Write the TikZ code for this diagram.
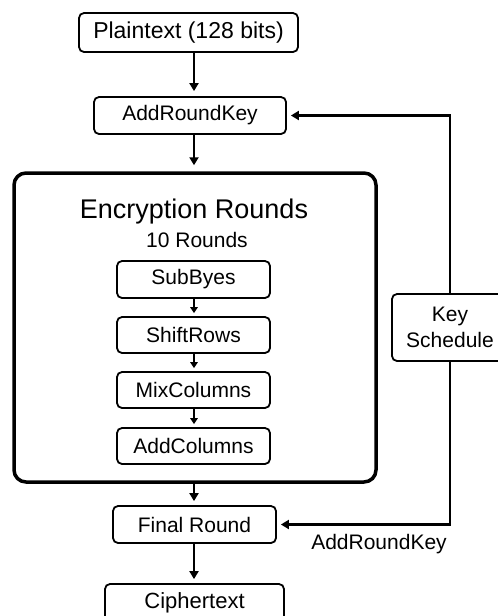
\documentclass[tikz,border=0pt]{standalone}
\usepackage{fontspec}
\setmainfont{Liberation Sans}
\usetikzlibrary{arrows.meta}
\begin{document}
\begin{tikzpicture}[x=1pt,y=-1pt,
  box/.style={draw, line width=1.8pt, rounded corners=5pt, inner sep=0pt,
    font=\fontsize{21}{26}\selectfont},
  bigbox/.style={draw, line width=3.5pt, rounded corners=12pt, inner sep=0pt},
  arr/.style={line width=2.5pt, -{Triangle[length=8pt,width=9pt]}},
  sarr/.style={line width=2pt, -{Triangle[length=6pt,width=7.5pt]}},
  lbl/.style={inner sep=0pt}]
\useasboundingbox (0,0) rectangle (498,616);
\clip (0,0) rectangle (498,616);
\fill[white] (0,0) rectangle (498,616);

\node[box, minimum width=219pt, minimum height=39pt, font=\fontsize{23}{26}\selectfont] (pt) at (188.5,32.5) {Plaintext (128 bits)};
\node[box, minimum width=192pt, minimum height=37pt] (ark) at (190,115.5) {AddRoundKey};
\node[bigbox, minimum width=362pt, minimum height=309pt] (enc) at (195,327.5) {};
\node[lbl, anchor=base, font=\fontsize{27}{30}\selectfont] (title) at (194,218) {Encryption Rounds};
\node[lbl, anchor=base, font=\fontsize{21}{24}\selectfont] (ten) at (197,247) {10 Rounds};
\node[box, minimum width=153pt, minimum height=37pt] (sb) at (193.5,279.5) {SubByes};
\node[box, minimum width=153pt, minimum height=36pt] (sr) at (193.5,335) {ShiftRows};
\node[box, minimum width=153pt, minimum height=36pt] (mc) at (193.5,390) {MixColumns};
\node[box, minimum width=153pt, minimum height=36pt] (ac) at (193.5,446) {AddColumns};
\node[box, minimum width=163pt, minimum height=37pt] (fr) at (194.5,524.5) {Final Round};
\node[box, minimum width=179pt, minimum height=38pt, font=\fontsize{22}{26}\selectfont] (ct) at (194.5,603) {Ciphertext};
\node[box, minimum width=116pt, minimum height=67pt, align=center] (ks) at (450,327.5) {Key\\Schedule};
\node[lbl, font=\fontsize{21}{24}\selectfont] (arkl) at (379,544) {AddRoundKey};

\draw[arr, shorten >=5pt] (pt.south -| 194,0) -- (ark.north -| 194,0);
\draw[arr, shorten >=6pt] (ark.south -| 194,0) -- (enc.north -| 194,0);
\draw[sarr, shorten >=3pt] (sb.south -| 194,0) -- (sr.north -| 194,0);
\draw[sarr, shorten >=3pt] (sr.south -| 194,0) -- (mc.north -| 194,0);
\draw[sarr, shorten >=3pt] (mc.south -| 194,0) -- (ac.north -| 194,0);
\draw[arr, shorten >=4pt] (enc.south -| 194,0) -- (fr.north -| 194,0);
\draw[arr, shorten >=4pt] (fr.south -| 194,0) -- (ct.north -| 194,0);
\draw[arr, shorten >=4pt] (ks.north) |- (ark.east);
\draw[arr, shorten >=4pt] (ks.south) |- (fr.east);
\end{tikzpicture}
\end{document}
